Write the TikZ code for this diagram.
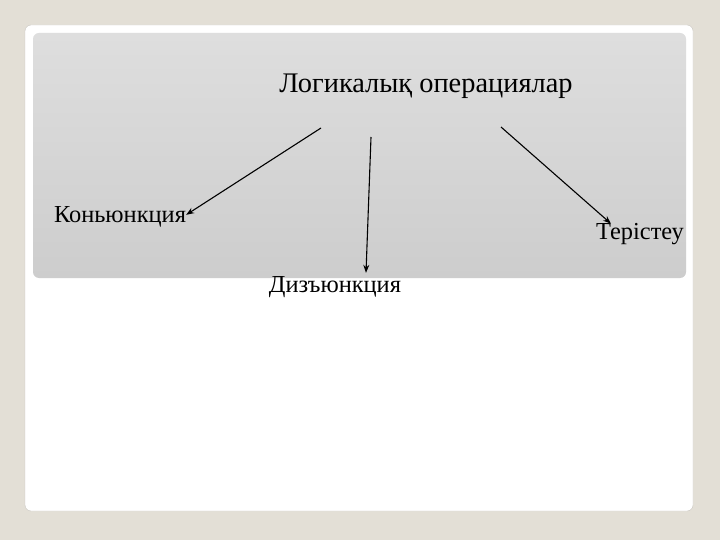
\documentclass[tikz,border=0pt]{standalone}
\usepackage{fontspec}
\setmainfont{Liberation Serif}
\usepackage{xcolor}
\usetikzlibrary{arrows.meta}

\definecolor{slidebg}{HTML}{E3DFD6}
\definecolor{panelline}{HTML}{C9C6C0}
\definecolor{paneltop}{HTML}{DEDEDE}
\definecolor{panelbot}{HTML}{CDCDCD}

\tikzset{
  label/.style={inner sep=0pt, font=\fontsize{24.5}{28}\selectfont, anchor=base},
  title/.style={label, font=\fontsize{28.5}{32}\selectfont},
  arr/.style={line width=1.1bp, -{Stealth[length=8bp,width=6bp]}}
}

\begin{document}
\begin{tikzpicture}[x=1bp, y=-1bp]

       \fill [slidebg]                        (0,0) rectangle (720,540);
       \draw [panelline, fill=white, rounded corners=6bp]
                                              (25,25) rectangle (693,511);
       \shade [top color=paneltop, bottom color=panelbot, rounded corners=6bp]
                                              (33,33) rectangle (686,278);

        \node [title] (logic) at (426,93)  {Логикалық операциялар};
        \node [label] (kon)   at (120,223) {Коньюнкция};
        \node [label] (diz)   at (335,292) {Дизъюнкция};
        \node [label] (ter)   at (640,240) {Терістеу};

        \coordinate (t1) at (321,128);
        \coordinate (t2) at (371,137);
        \coordinate (t3) at (501,127);

        \draw [arr]  (t1) -- ([yshift=-8bp]kon.north east);
        \draw [arr]  (t2) -- ([xshift=31bp,yshift=3bp]diz.north);
        \draw [arr]  (t3) -- ([xshift=15bp]ter.north west);

     \end{tikzpicture}
\end{document}
